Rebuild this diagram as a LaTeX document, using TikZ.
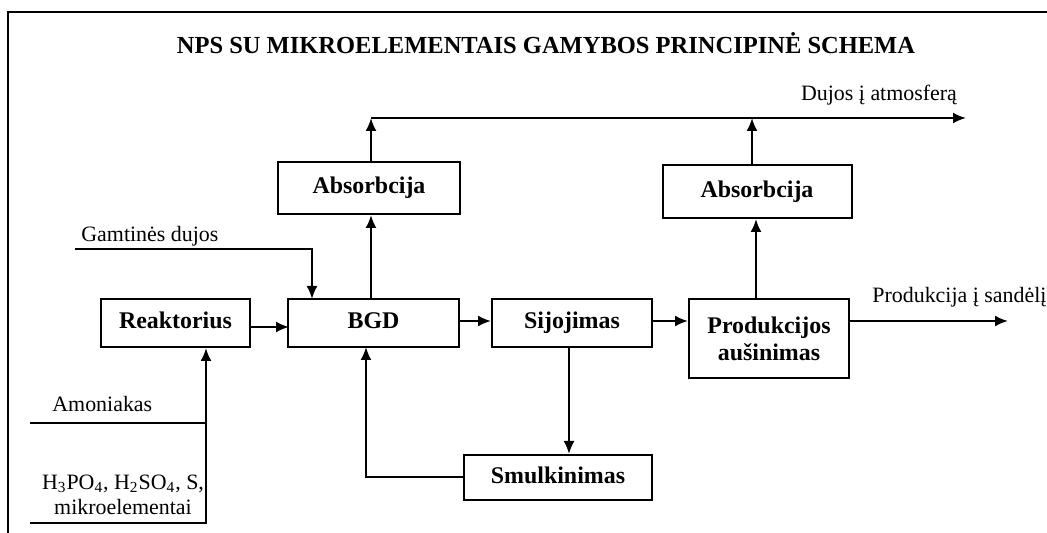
\documentclass[tikz,border=0pt]{standalone}
\usepackage{fontspec}
\setmainfont{Liberation Serif}
\usetikzlibrary{arrows.meta}
\tikzset{
  stage/.style={draw,line width=1bp,inner sep=0pt,align=center,
    font=\fontsize{12}{13.5}\selectfont\bfseries},
  oneline/.style={text height=8.5bp,text depth=2.5bp},
  flow/.style={line width=1bp},
  lbl/.style={inner sep=0pt,font=\fontsize{11}{12.5}\selectfont},
}
\begin{document}
\begin{tikzpicture}[x=0.5bp,y=-0.5bp,>={Latex[length=6.5bp,width=5.5bp]},line join=miter]
  \useasboundingbox (0,0) rectangle (1047,533);
  \clip (0,0) rectangle (1047,533);
  % frame
  \draw [line width=1.2bp] (8,540) -- (8,12) -- (1060,12);
  \node [inner sep=0pt,font=\fontsize{12.3}{13.5}\selectfont\bfseries] (title) at (546,43) {NPS SU MIKROELEMENTAIS GAMYBOS PRINCIPINĖ SCHEMA};
  % Nodes
  \node [stage,oneline,minimum width=74.5bp,minimum height=24bp] (reaktorius) at (175.5,323) {Reaktorius};
  \node [stage,oneline,minimum width=85.5bp,minimum height=24bp] (bgd) at (373.5,323) {BGD};
  \node [stage,oneline,minimum width=80bp,minimum height=24bp] (sijojimas) at (572,323) {Sijojimas};
  \node [stage,minimum width=80bp,minimum height=39.5bp] (produkcija) at (769,338.5) {Produkcijos\\aušinimas};
  \node [stage,oneline,minimum width=94bp,minimum height=22.5bp] (smulkinimas) at (558,477.5) {Smulkinimas};
  \node [stage,oneline,minimum width=91bp,minimum height=26bp] (absorbA) at (369,188) {Absorbcija};
  \node [stage,oneline,minimum width=94.5bp,minimum height=26.5bp] (absorbB) at (757,191.5) {Absorbcija};
  % Free ends
  \coordinate (atmL) at (371,118);
  \coordinate (atmR) at (966,118);
  \coordinate (gasIn) at (75,249);
  \coordinate (gasDown) at (312,299);
  \coordinate (prodOut) at (1008,321);
  \coordinate (backUp) at (366,347);
  \coordinate (amIn) at (30,423);
  \coordinate (acidIn) at (30,523);
  \coordinate (feedUp) at (206,523);
  % Labels
  \node [lbl,anchor=base] (lAtm) at (879,101) {Dujos į atmosferą};
  \node [lbl,anchor=base west] (lGas) at (81,242) {Gamtinės dujos};
  \node [lbl,anchor=base west] (lProd) at (872,303) {Produkcija į sandėlį};
  \node [lbl,anchor=base west] (lAm) at (52,412) {Amoniakas};
  \node [lbl,align=center] (lAcid) at (123,495) {H\textsubscript{3}PO\textsubscript{4}, H\textsubscript{2}SO\textsubscript{4}, S,\\mikroelementai};
  % Edges
  \draw [flow,->] (reaktorius.east) ++(0,4) -- ++(38,0);
  \draw [flow,->] (bgd.east) ++(0,-2) -- (sijojimas.west |- 0,321);
  \draw [flow,->] (sijojimas.east |- 0,321) -- (produkcija.west |- 0,321);
  \draw [flow,->] (produkcija.east |- prodOut) -- (prodOut);
  \draw [flow,->] (gasIn) -| (gasDown);
  \draw [flow,->] (bgd.north -| atmL) -- (absorbA.south -| atmL);
  \draw [flow,->] (absorbA.north -| atmL) -- (atmL);
  \draw [flow,->] (atmL) -- (atmR);
  \draw [flow,->] (absorbB.north -| 752,0) -- (atmL -| 752,0);
  \draw [flow,->] (produkcija.north -| 756,0) -- (absorbB.south -| 756,0);
  \draw [flow,->] (smulkinimas.west) -| (backUp);
  \draw [flow,->] (sijojimas.south -| 569,0) -- (smulkinimas.north -| 569,0);
  \draw [flow] (amIn) -- (amIn -| feedUp);
  \draw [flow,->] (acidIn) -- (feedUp) -- (reaktorius.south -| feedUp);
%
\end{tikzpicture}
\end{document}
